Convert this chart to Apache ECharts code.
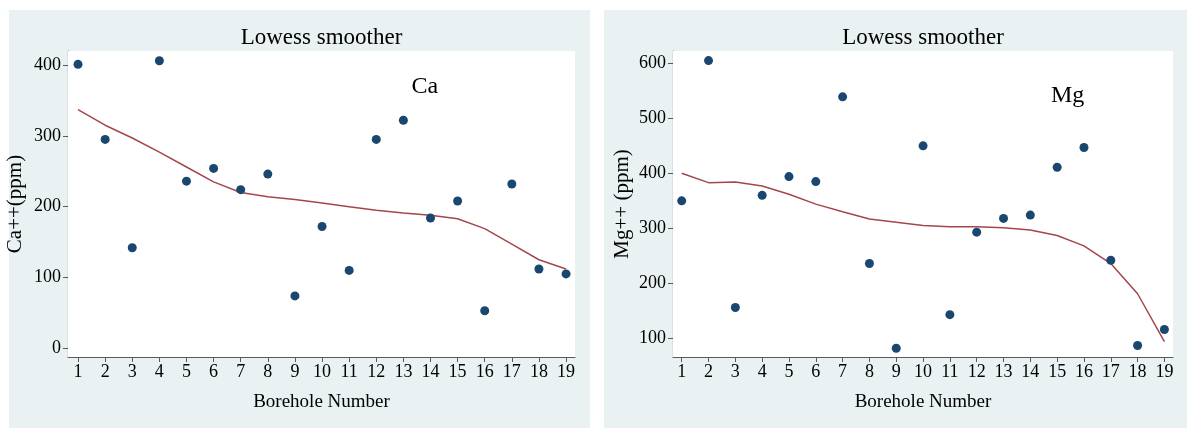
<!DOCTYPE html>
<html>
<head>
<meta charset="utf-8">
<title>Lowess smoother – Ca and Mg by borehole</title>
<script src="https://cdn.jsdelivr.net/npm/echarts@6/dist/echarts.min.js"></script>
<style>
  html, body { margin: 0; padding: 0; background: #ffffff; }
  #chart { width: 1187px; height: 428px; }
</style>
</head>
<body>
<div id="chart"></div>
<script>
// Borehole numbers along the x axis
const boreholes = [1, 2, 3, 4, 5, 6, 7, 8, 9, 10, 11, 12, 13, 14, 15, 16, 17, 18, 19];

// Calcium concentration (ppm) and its lowess fit
const caValues = [401, 295, 142, 406, 236, 254, 224, 246, 74, 172, 110, 295, 322, 184, 208, 53, 232, 112, 105];
const caLowess = [337, 315, 297, 277, 256, 235, 220, 214, 210, 205, 200, 195, 191, 188, 183, 169, 147, 125, 112];

// Magnesium concentration (ppm) and its lowess fit
const mgValues = [350, 605, 156, 360, 394, 385, 539, 236, 82, 450, 143, 293, 318, 324, 411, 447, 242, 87, 116];
const mgLowess = [400, 383, 384, 377, 362, 344, 330, 317, 311, 305, 303, 303, 301, 297, 287, 268, 236, 181, 94];

// Tick labels
const caTicks = [0, 100, 200, 300, 400];
const mgTicks = [100, 200, 300, 400, 500, 600];

const panelTitle = 'Lowess smoother';
const xTitle = 'Borehole Number';
const caTitle = 'Ca++(ppm)';
const mgTitle = 'Mg++ (ppm)';

const FONT = '"Liberation Serif", "Times New Roman", serif';
const PANEL_BG = '#eaf1f3';
const MARKER = '#1a476f';
const FIT = '#a4464c';
const AXIS = '#5a5a5a';

const pairs = (xs, ys) => xs.map((x, i) => [x, ys[i]]);

function xAxisFor(gridIndex, min, max) {
  return {
    type: 'value', gridIndex, min, max,
    name: xTitle, nameLocation: 'middle', nameGap: 36,
    nameTextStyle: { fontFamily: FONT, fontSize: 19, color: '#000' },
    axisLine: { show: true, onZero: false, lineStyle: { color: AXIS, width: 1.2 } },
    axisTick: { show: true, length: 5, customValues: boreholes, lineStyle: { color: AXIS } },
    axisLabel: { customValues: boreholes, margin: 6, fontFamily: FONT, fontSize: 18, color: '#000' },
    splitLine: { show: false }
  };
}

function yAxisFor(gridIndex, min, max, ticks, title, gap) {
  return {
    type: 'value', gridIndex, min, max,
    name: title, nameLocation: 'middle', nameGap: gap, nameRotate: 90,
    nameTextStyle: { fontFamily: FONT, fontSize: 21, color: '#000' },
    axisLine: { show: true, onZero: false, lineStyle: { color: AXIS, width: 1.2 } },
    axisTick: { show: true, length: 5, customValues: ticks, lineStyle: { color: AXIS } },
    axisLabel: { customValues: ticks, margin: 7, fontFamily: FONT, fontSize: 18, color: '#000' },
    splitLine: { show: true, lineStyle: { color: '#e3edf0', width: 1.5 } }
  };
}

const chart = echarts.init(document.getElementById('chart'), null, { renderer: 'canvas' });

const grids = [
  { left: 68, top: 51, width: 507, height: 306 },
  { left: 673, top: 51, width: 500, height: 306 }
];

chart.setOption({
  animation: false,
  backgroundColor: '#ffffff',
  grid: grids.map(g => Object.assign({ show: true, backgroundColor: '#ffffff', borderWidth: 0, z: 1 }, g)),
  xAxis: [
    xAxisFor(0, 0.63, 19.33),
    xAxisFor(1, 0.675, 19.32)
  ],
  yAxis: [
    yAxisFor(0, -12.3, 419.8, caTicks, caTitle, 42),
    yAxisFor(1, 66, 622.4, mgTicks, mgTitle, 40)
  ],
  series: [
    {
      type: 'scatter', xAxisIndex: 0, yAxisIndex: 0,
      data: pairs(boreholes, caValues), symbolSize: 9,
      itemStyle: { color: MARKER, opacity: 1 }, z: 3
    },
    {
      type: 'line', xAxisIndex: 0, yAxisIndex: 0,
      data: pairs(boreholes, caLowess), showSymbol: false, smooth: false,
      lineStyle: { color: FIT, width: 1.5 }, z: 2
    },
    {
      type: 'scatter', xAxisIndex: 1, yAxisIndex: 1,
      data: pairs(boreholes, mgValues), symbolSize: 9,
      itemStyle: { color: MARKER, opacity: 1 }, z: 3
    },
    {
      type: 'line', xAxisIndex: 1, yAxisIndex: 1,
      data: pairs(boreholes, mgLowess), showSymbol: false, smooth: false,
      lineStyle: { color: FIT, width: 1.5 }, z: 2
    }
  ]
});

// Panel backgrounds, panel titles and the element labels inside each plot
const caLabelPos = chart.convertToPixel({ gridIndex: 0 }, [13.3, 370]);
const mgLabelPos = chart.convertToPixel({ gridIndex: 1 }, [14.77, 542]);

chart.setOption({
  graphic: [
    { type: 'rect', z: -10, silent: true, shape: { x: 9, y: 10, width: 581, height: 418 }, style: { fill: PANEL_BG } },
    { type: 'rect', z: -10, silent: true, shape: { x: 604, y: 10, width: 583, height: 418 }, style: { fill: PANEL_BG } },
    { type: 'text', z: 10, silent: true, x: grids[0].left + grids[0].width / 2, y: 38,
      style: { text: panelTitle, font: '23px ' + FONT, fill: '#000', align: 'center', verticalAlign: 'middle' } },
    { type: 'text', z: 10, silent: true, x: grids[1].left + grids[1].width / 2, y: 38,
      style: { text: panelTitle, font: '23px ' + FONT, fill: '#000', align: 'center', verticalAlign: 'middle' } },
    { type: 'text', z: 10, silent: true, x: caLabelPos[0], y: caLabelPos[1],
      style: { text: 'Ca', font: '24px ' + FONT, fill: '#000', align: 'left', verticalAlign: 'middle' } },
    { type: 'text', z: 10, silent: true, x: mgLabelPos[0], y: mgLabelPos[1],
      style: { text: 'Mg', font: '24px ' + FONT, fill: '#000', align: 'left', verticalAlign: 'middle' } }
  ]
});
</script>
</body>
</html>
